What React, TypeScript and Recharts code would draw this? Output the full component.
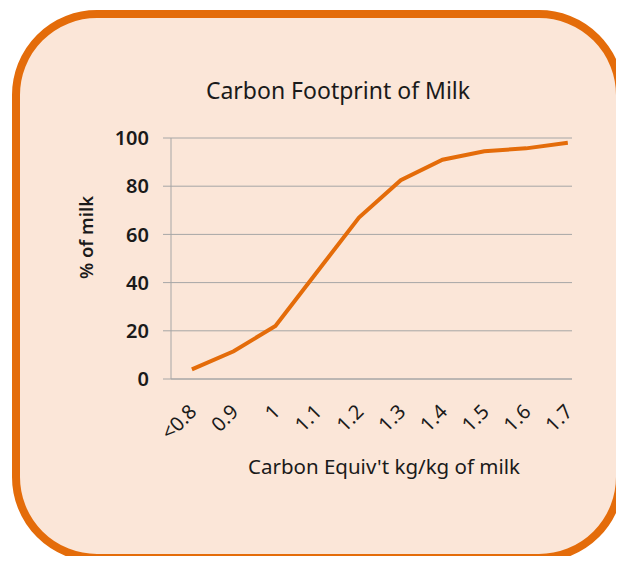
import React from 'react';
import { LineChart, Line, XAxis, YAxis, CartesianGrid } from 'recharts';

const categories = ['<0.8', '0.9', '1', '1.1', '1.2', '1.3', '1.4', '1.5', '1.6', '1.7'];
const percentOfMilk = [4, 11.5, 22, 44.5, 67, 82.5, 91, 94.5, 95.7, 98];
const yTicks = [0, 20, 40, 60, 80, 100];
const title = 'Carbon Footprint of Milk';
const xTitle = "Carbon Equiv't kg/kg of milk";
const yTitle = '% of milk';

const data = categories.map((label, i) => ({ i, label, pct: percentOfMilk[i] }));
const labelTicks = categories.map((_, i) => i);
const markTicks = categories.map((_, i) => i - 0.5);

const FONT = "'Noto Sans', 'Liberation Sans', Arial, sans-serif";
const ORANGE = '#E46C0A';
const GRID = '#A6A6A6';
const TEXT = '#1a1a1a';

const XTick = (props: any) => {
  const { x, y, payload } = props;
  const ax = x + 6;
  const ay = y + 32;
  return (
    <text
      x={ax}
      y={ay}
      textAnchor="end"
      fill={TEXT}
      fontSize={20}
      fontFamily={FONT}
      transform={`rotate(-45, ${ax}, ${ay})`}
    >
      {categories[payload.value]}
    </text>
  );
};

export default function App() {
  return (
    <div style={{ position: 'relative', width: 608, height: 548 }}>
      <div
        style={{
          position: 'absolute',
          left: 4,
          top: 2,
          width: 612,
          height: 552,
          boxSizing: 'border-box',
          border: `8px solid ${ORANGE}`,
          borderRadius: 85,
          background: '#FBE6D8',
        }}
      />
      <div
        style={{
          position: 'absolute',
          left: 130,
          width: 400,
          top: 66,
          textAlign: 'center',
          fontFamily: FONT,
          fontSize: 23,
          color: TEXT,
          whiteSpace: 'nowrap',
        }}
      >
        {title}
      </div>
      <div
        style={{
          position: 'absolute',
          left: 176,
          width: 400,
          top: 444,
          textAlign: 'center',
          fontFamily: FONT,
          fontSize: 20.5,
          color: TEXT,
          whiteSpace: 'nowrap',
        }}
      >
        {xTitle}
      </div>
      <div
        style={{
          position: 'absolute',
          left: 77 - 100,
          width: 200,
          top: 231 - 14,
          textAlign: 'center',
          fontFamily: FONT,
          fontSize: 18.5,
          fontWeight: 600,
          color: TEXT,
          whiteSpace: 'nowrap',
          transform: 'rotate(-90deg)',
        }}
      >
        {yTitle}
      </div>
      <div style={{ position: 'absolute', left: 0, top: 0 }}>
        <LineChart
          width={608}
          height={548}
          data={data}
          margin={{ top: 130, right: 44, bottom: 117, left: 103 }}
        >
          <CartesianGrid vertical={false} stroke={GRID} strokeWidth={1} />
          <XAxis
            xAxisId="marks"
            dataKey="i"
            type="number"
            domain={[-0.5, 9.1]}
            allowDataOverflow
            ticks={markTicks}
            tick={false}
            tickLine={{ stroke: GRID }}
            tickSize={6}
            axisLine={false}
            height={0}
          />
          <XAxis
            dataKey="i"
            type="number"
            domain={[-0.5, 9.1]}
            allowDataOverflow
            ticks={labelTicks}
            interval={0}
            tick={<XTick />}
            tickLine={false}
            tickSize={0}
            axisLine={{ stroke: GRID }}
            height={60}
          />
          <YAxis
            domain={[0, 100]}
            ticks={yTicks}
            width={60}
            tickSize={8}
            tickMargin={14}
            tickLine={{ stroke: GRID }}
            axisLine={{ stroke: GRID }}
            tick={{ fill: TEXT, fontSize: 20, fontFamily: FONT, fontWeight: 600 }}
          />
          <Line
            dataKey="pct"
            stroke={ORANGE}
            strokeWidth={4}
            dot={false}
            activeDot={false}
            isAnimationActive={false}
          />
        </LineChart>
      </div>
    </div>
  );
}
